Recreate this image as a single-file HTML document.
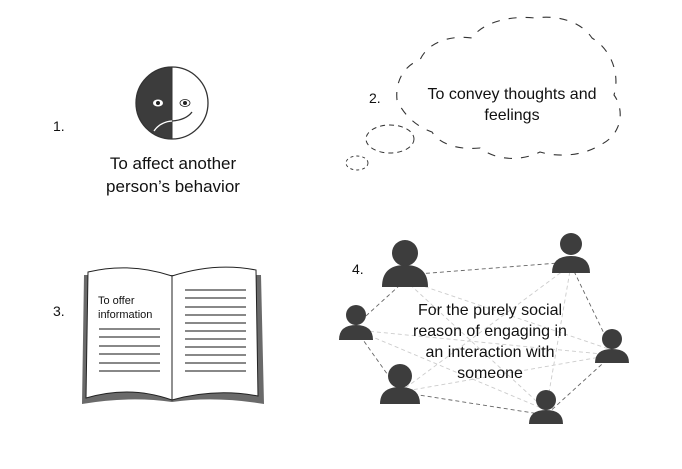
<!DOCTYPE html>
<html><head><style>
body{margin:0;background:#fff;}
svg text{font-family:"Liberation Sans",sans-serif;fill:#111;}
</style></head><body>
<svg width="682" height="464" viewBox="0 0 682 464" xmlns="http://www.w3.org/2000/svg">
<rect width="682" height="464" fill="#fff"/>
<!-- 1 -->
<text x="53" y="131" font-size="14">1.</text>
<path d="M172,67 A36,36 0 0 0 172,139 Z" fill="#3c3c3c"/>
<circle cx="172" cy="103" r="36" fill="none" stroke="#333" stroke-width="1.3"/>
<line x1="172" y1="67" x2="172" y2="139" stroke="#333"/>
<ellipse cx="158" cy="103" rx="5" ry="3.5" fill="#fff"/><circle cx="158" cy="103" r="2" fill="#222"/>
<ellipse cx="185" cy="103" rx="5" ry="3.5" fill="#fff" stroke="#222" stroke-width="0.8"/><circle cx="185" cy="103" r="2" fill="#222"/>
<path d="M154,131 Q160,122 172,121 Q186,120 192,112" fill="none" stroke="#fff" stroke-width="1.3"/>
<path d="M172,121 Q186,120 192,112" fill="none" stroke="#333" stroke-width="1.3"/>
<text x="173" y="169" font-size="17" text-anchor="middle">To affect another</text>
<text x="173" y="192" font-size="17" text-anchor="middle">person’s behavior</text>
<!-- 2 -->
<text x="369" y="103" font-size="14">2.</text>
<path d="M397,100 C395,80 405,65 420,60 C428,42 450,35 472,38 C480,25 505,15 535,18 C555,15 580,20 592,38 C612,50 620,75 614,95 C625,110 622,135 600,145 C585,155 560,158 540,152 C520,162 495,160 480,148 C460,150 440,145 432,132 C420,128 405,118 397,100 Z" fill="none" stroke="#333" stroke-width="1.1" stroke-dasharray="8,9"/>
<ellipse cx="390" cy="139" rx="24" ry="14" fill="#fff" stroke="#333" stroke-width="1" stroke-dasharray="5,4"/>
<ellipse cx="357" cy="163" rx="11" ry="7" fill="none" stroke="#333" stroke-width="0.9" stroke-dasharray="3,3"/>
<text x="512" y="99" font-size="16" text-anchor="middle">To convey thoughts and</text>
<text x="512" y="120" font-size="16" text-anchor="middle">feelings</text>
<!-- 3 -->
<text x="53" y="316" font-size="14">3.</text>
<path d="M84,275 L82,404 Q130,396 172,402 Q215,396 264,404 L261,275 Z" fill="#6a6a6a"/>
<path d="M88,272 Q130,262 172,276 L172,400 Q130,385 86,398 Z" fill="#fff" stroke="#222" stroke-width="1"/>
<path d="M172,276 Q215,262 256,270 L258,396 Q215,388 172,400 Z" fill="#fff" stroke="#222" stroke-width="1"/>
<text x="98" y="304" font-size="11">To offer</text>
<text x="98" y="318" font-size="11">information</text>
<g stroke="#111" stroke-width="1">
<line x1="99" y1="329" x2="160" y2="329"/><line x1="99" y1="337" x2="160" y2="337"/><line x1="99" y1="346" x2="160" y2="346"/><line x1="99" y1="354" x2="160" y2="354"/><line x1="99" y1="363" x2="160" y2="363"/><line x1="99" y1="371" x2="160" y2="371"/>
<line x1="185" y1="290" x2="246" y2="290"/><line x1="185" y1="298" x2="246" y2="298"/><line x1="185" y1="307" x2="246" y2="307"/><line x1="185" y1="315" x2="246" y2="315"/><line x1="185" y1="323" x2="246" y2="323"/><line x1="185" y1="331" x2="246" y2="331"/><line x1="185" y1="339" x2="246" y2="339"/><line x1="185" y1="347" x2="246" y2="347"/><line x1="185" y1="355" x2="246" y2="355"/><line x1="185" y1="363" x2="246" y2="363"/><line x1="185" y1="371" x2="246" y2="371"/>
</g>
<!-- 4 -->
<text x="352" y="274" font-size="14">4.</text>
<g stroke="#666" stroke-width="0.9" stroke-dasharray="4,3" fill="none">
<line x1="405" y1="275" x2="571" y2="262"/><line x1="400" y1="285" x2="356" y2="325"/>
<line x1="571" y1="265" x2="612" y2="350"/><line x1="356" y1="330" x2="400" y2="392"/>
<line x1="400" y1="392" x2="546" y2="415"/><line x1="612" y1="355" x2="546" y2="415"/>
</g>
<g stroke="#ccc" stroke-width="0.9" stroke-dasharray="4,3" fill="none">
<line x1="405" y1="280" x2="612" y2="350"/><line x1="405" y1="280" x2="546" y2="410"/>
<line x1="571" y1="265" x2="546" y2="410"/><line x1="356" y1="330" x2="612" y2="355"/>
<line x1="356" y1="330" x2="546" y2="410"/><line x1="400" y1="392" x2="612" y2="355"/>
<line x1="400" y1="392" x2="571" y2="265"/>
</g>
<g fill="#3d3d3d">
<circle cx="405" cy="253" r="13"/><path d="M382,287 Q382,265 405,265 Q428,265 428,287 Z"/>
<circle cx="571" cy="244" r="11"/><path d="M552,273 Q552,256 571,256 Q590,256 590,273 Z"/>
<circle cx="356" cy="315" r="10"/><path d="M339,340 Q339,325 356,325 Q373,325 373,340 Z"/>
<circle cx="612" cy="339" r="10"/><path d="M595,363 Q595,349 612,349 Q629,349 629,363 Z"/>
<circle cx="400" cy="376" r="12"/><path d="M380,404 Q380,387 400,387 Q420,387 420,404 Z"/>
<circle cx="546" cy="400" r="10"/><path d="M529,424 Q529,410 546,410 Q563,410 563,424 Z"/>
</g>
<text x="490" y="315" font-size="16" text-anchor="middle">For the purely social</text>
<text x="490" y="336" font-size="16" text-anchor="middle">reason of engaging in</text>
<text x="490" y="357" font-size="16" text-anchor="middle">an interaction with</text>
<text x="490" y="378" font-size="16" text-anchor="middle">someone</text>
</svg>
</body></html>
